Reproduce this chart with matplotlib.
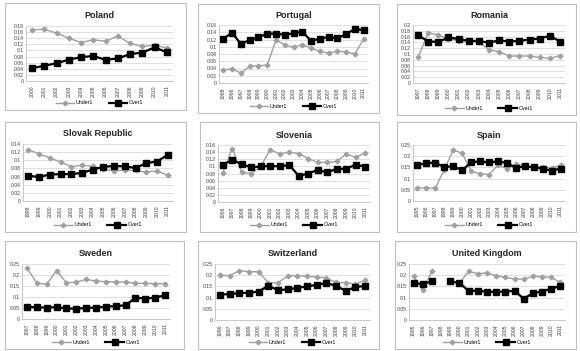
"""Under1 / Over1 shares by country, nine small Excel-style panels."""

import matplotlib
matplotlib.use("Agg")
import matplotlib.pyplot as plt
import numpy as np
from matplotlib.patches import Rectangle
from matplotlib.ticker import FuncFormatter

nan = np.nan

COUNTRIES = ["Poland", "Portugal", "Romania", "Slovak Republic", "Slovenia",
             "Spain", "Sweden", "Switzerland", "United Kingdom"]

FIRST_YEAR = [2000, 1995, 1997, 1998, 1996, 1995, 1997, 1996, 1995]
LAST_YEAR = 2011

POLAND_UNDER = [0.168, 0.169, 0.157, 0.140, 0.126, 0.135, 0.130, 0.147, 0.123, 0.113, 0.117, 0.108]
POLAND_OVER = [0.042, 0.050, 0.058, 0.070, 0.078, 0.082, 0.069, 0.074, 0.088, 0.093, 0.110, 0.094]

PORTUGAL_UNDER = [0.036, 0.039, 0.027, 0.046, 0.048, 0.049, 0.119, 0.105, 0.099, 0.106, 0.097,
                  0.087, 0.083, 0.087, 0.086, 0.080, 0.121]
PORTUGAL_OVER = [0.122, 0.139, 0.107, 0.119, 0.126, 0.136, 0.136, 0.133, 0.137, 0.142, 0.116,
                 0.122, 0.127, 0.123, 0.135, 0.149, 0.146]

ROMANIA_UNDER = [0.088, 0.174, 0.165, 0.153, 0.145, 0.145, 0.140, 0.115, 0.108, 0.093, 0.093,
                 0.093, 0.088, 0.085, 0.094]
ROMANIA_OVER = [0.165, 0.143, 0.142, 0.157, 0.152, 0.145, 0.145, 0.139, 0.147, 0.143, 0.145,
                0.150, 0.153, 0.163, 0.143]

SLOVAK_UNDER = [0.126, 0.116, 0.106, 0.096, 0.084, 0.088, 0.085, 0.078, 0.074, 0.076, 0.075,
                0.071, 0.074, 0.063]
SLOVAK_OVER = [0.062, 0.059, 0.065, 0.066, 0.066, 0.069, 0.077, 0.084, 0.086, 0.085, 0.081,
               0.093, 0.097, 0.113]

SLOVENIA_UNDER = [0.082, 0.150, 0.083, 0.080, 0.100, 0.147, 0.135, 0.140, 0.136, 0.122, 0.111,
                  0.111, 0.114, 0.135, 0.125, 0.138]
SLOVENIA_OVER = [0.104, 0.118, 0.106, 0.097, 0.100, 0.101, 0.100, 0.104, 0.073, 0.080, 0.090,
                 0.083, 0.093, 0.093, 0.105, 0.099]

SPAIN_UNDER = [0.058, 0.058, 0.058, 0.140, 0.228, 0.213, 0.133, 0.122, 0.118, 0.160, 0.145,
               0.165, 0.160, 0.150, 0.153, 0.147, 0.160]
SPAIN_OVER = [0.160, 0.170, 0.170, 0.152, 0.155, 0.137, 0.173, 0.177, 0.172, 0.177, 0.170,
              0.148, 0.155, 0.150, 0.145, 0.135, 0.145]

SWEDEN_UNDER = [0.233, 0.163, 0.158, 0.220, 0.165, 0.167, 0.180, 0.172, 0.170, 0.168, 0.168,
                0.162, 0.162, 0.160, 0.161]
SWEDEN_OVER = [0.055, 0.053, 0.052, 0.054, 0.048, 0.047, 0.050, 0.052, 0.056, 0.059, 0.062,
               0.097, 0.093, 0.097, 0.108]

SWISS_UNDER = [0.200, 0.198, 0.220, 0.216, 0.215, 0.167, 0.166, 0.197, 0.198, 0.195, 0.192,
               0.188, 0.168, 0.167, 0.160, 0.177]
SWISS_OVER = [0.113, 0.116, 0.120, 0.122, 0.127, 0.153, 0.133, 0.137, 0.143, 0.150, 0.157,
              0.165, 0.153, 0.130, 0.147, 0.152]

UK_UNDER = [0.195, 0.135, 0.217, nan, nan, 0.165, 0.217, 0.207, 0.210, 0.198, 0.190,
            0.183, 0.182, 0.195, 0.193, 0.190, 0.168]
UK_OVER = [0.163, 0.162, 0.172, nan, 0.172, 0.165, 0.130, 0.130, 0.127, 0.125, 0.127,
           0.130, 0.095, 0.120, 0.127, 0.140, 0.152]

UNDER = [POLAND_UNDER, PORTUGAL_UNDER, ROMANIA_UNDER, SLOVAK_UNDER, SLOVENIA_UNDER,
         SPAIN_UNDER, SWEDEN_UNDER, SWISS_UNDER, UK_UNDER]
OVER = [POLAND_OVER, PORTUGAL_OVER, ROMANIA_OVER, SLOVAK_OVER, SLOVENIA_OVER,
        SPAIN_OVER, SWEDEN_OVER, SWISS_OVER, UK_OVER]

# axis settings: (ymax, step)
Y_AXES = [(0.18, 0.02), (0.16, 0.02), (0.2, 0.02), (0.14, 0.02), (0.16, 0.02),
          (0.25, 0.05), (0.25, 0.05), (0.25, 0.05), (0.25, 0.05)]

# pixel layout: box (l, t, r, b) and plot area (l, t, r, b)
BOXES = [(5, 3, 186, 110), (198, 4, 379, 113), (397, 4, 576, 115),
         (5, 122, 186, 232), (200, 122, 379, 232), (397, 122, 576, 232),
         (5, 241, 184, 349), (198, 241, 379, 349), (395, 241, 576, 349)]
PLOTS = [(26, 26, 173, 81), (219, 25, 368, 83), (413, 25, 565, 83),
         (23, 144, 173, 201), (218, 145, 370, 202), (413, 145, 565, 201),
         (22, 264, 170, 319), (215, 264, 370, 320), (409, 264, 565, 320)]

W, H = 580, 351
UNDER_COLOR = "#a0a0a0"
GRID_COLOR = "#d9d9d9"
FONT = "Liberation Sans"


def main() -> None:
    """The main function."""

    fig = plt.figure(figsize=(W / 100, H / 100), dpi=100)
    fig.patch.set_facecolor("white")

    for i, name in enumerate(COUNTRIES):
        bl, bt, br, bb = BOXES[i]
        fig.patches.append(Rectangle(
            (bl / W, 1 - bb / H), (br - bl) / W, (bb - bt) / H,
            transform=fig.transFigure, fill=False, edgecolor="#bfbfbf",
            linewidth=0.8))

        pl, pt, pr, pb = PLOTS[i]
        axes = fig.add_axes([pl / W, 1 - pb / H, (pr - pl) / W, (pb - pt) / H])

        years = list(range(FIRST_YEAR[i], LAST_YEAR + 1))
        x = np.arange(len(years))

        under_line, = axes.plot(x, UNDER[i], color=UNDER_COLOR, linewidth=1.0,
                                marker="D", markersize=2.4, label="Under1")
        over_line, = axes.plot(x, OVER[i], color="black", linewidth=1.6,
                               marker="s", markersize=3.9, label="Over1")

        ymax, step = Y_AXES[i]
        axes.set_ylim(0, ymax)
        axes.set_yticks(np.arange(0, ymax + step / 2, step))
        axes.yaxis.set_major_formatter(FuncFormatter(lambda v, _: f"{v:g}"))
        axes.set_xlim(-0.5, len(years) - 0.5)
        axes.set_xticks(x)
        axes.set_xticklabels([str(y) for y in years], rotation=90)
        axes.grid(axis="y", color=GRID_COLOR, linewidth=0.6)
        axes.set_axisbelow(True)

        for side in ("top", "right"):
            axes.spines[side].set_visible(False)
        for side in ("left", "bottom"):
            axes.spines[side].set_color("#bfbfbf")
            axes.spines[side].set_linewidth(0.6)
        axes.tick_params(axis="both", labelsize=3.7, length=0, pad=1.5,
                         colors="#404040")
        axes.tick_params(axis="x", pad=3.0)
        for label in axes.get_xticklabels() + axes.get_yticklabels():
            label.set_family(FONT)

        cx = (pl + pr) / 2 / W
        fig.text(cx, 1 - (pt - 10) / H, name, ha="center", va="center",
                 fontsize=6.5, fontweight="bold", family=FONT, color="#262626")

        fig.legend(handles=[under_line, over_line], loc="center",
                   bbox_to_anchor=(cx, 1 - (bb - 7) / H), ncol=2, frameon=False,
                   prop={"family": FONT, "size": 3.8}, handlelength=3.5,
                   columnspacing=3.0, handletextpad=0.3, borderaxespad=0)

    fig.savefig("out.png", dpi=100)


if __name__ == "__main__":
    main()
